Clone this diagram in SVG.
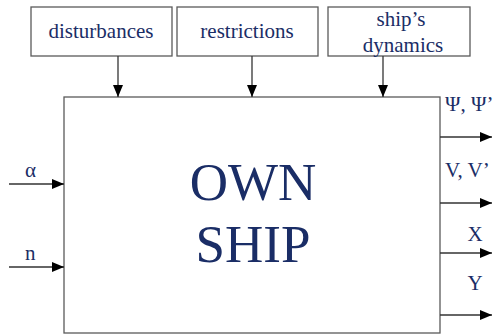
<svg xmlns="http://www.w3.org/2000/svg" width="500" height="335" viewBox="0 0 500 335">
<defs>
<style>
.box{fill:#fff;stroke:#5a5a5a;stroke-width:1.3}
.t{font-family:"Liberation Serif","DejaVu Serif",serif;fill:#1a2d66;font-size:21px}
.big{font-family:"Liberation Serif","DejaVu Serif",serif;fill:#1a2d66;font-size:53px;text-anchor:middle}
.c{text-anchor:middle}
.ln{stroke:#333;stroke-width:1.3;fill:none}
</style>
<marker id="ah" markerWidth="12" markerHeight="10" refX="12" refY="5" orient="auto" markerUnits="userSpaceOnUse">
<path d="M0,0 L12,5 L0,10 Z" fill="#000"/>
</marker>
</defs>
<rect width="500" height="335" fill="#fff"/>
<g id="own-ship">
<rect class="box" x="64" y="97" width="376" height="236"/>
<text class="big" x="253" y="200">OWN</text>
<text class="big" x="253" y="262">SHIP</text>
</g>
<g id="disturbances">
<rect class="box" x="31" y="7" width="141" height="49"/>
<text class="t c" x="101" y="38">disturbances</text>
</g>
<g id="restrictions">
<rect class="box" x="177" y="7" width="141" height="49"/>
<text class="t c" x="247" y="38">restrictions</text>
</g>
<g id="ships-dynamics">
<rect class="box" x="328" y="7" width="142" height="49"/>
<text class="t c" x="401" y="26">ship’s</text>
<text class="t c" x="403" y="52">dynamics</text>
</g>
<g id="connectors">
<line class="ln" x1="118" y1="56" x2="118" y2="97" marker-end="url(#ah)"/>
<line class="ln" x1="252" y1="56" x2="252" y2="97" marker-end="url(#ah)"/>
<line class="ln" x1="383" y1="56" x2="383" y2="97" marker-end="url(#ah)"/>
<line class="ln" x1="9" y1="184" x2="64" y2="184" marker-end="url(#ah)"/>
<line class="ln" x1="9" y1="267" x2="64" y2="267" marker-end="url(#ah)"/>
<line class="ln" x1="440" y1="137" x2="492" y2="137" marker-end="url(#ah)"/>
<line class="ln" x1="440" y1="203" x2="492" y2="203" marker-end="url(#ah)"/>
<line class="ln" x1="440" y1="253" x2="492" y2="253" marker-end="url(#ah)"/>
<line class="ln" x1="440" y1="315" x2="492" y2="315" marker-end="url(#ah)"/>
<text class="t" x="25" y="177">α</text>
<text class="t" x="25" y="260">n</text>
<text class="t" x="445" y="111">Ψ, Ψ’</text>
<text class="t" x="445" y="177">V, V’</text>
<text class="t c" x="475" y="241">X</text>
<text class="t c" x="475" y="290">Y</text>
</g>
</svg>
